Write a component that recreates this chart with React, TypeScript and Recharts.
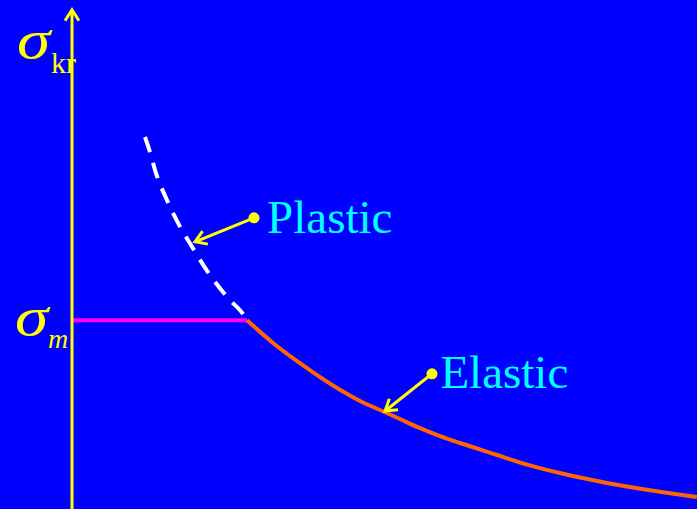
import React from "react";
import {
  LineChart,
  Line,
  XAxis,
  YAxis,
  ReferenceLine,
  ReferenceDot,
} from "recharts";

// slenderness (lambda) vs critical stress (sigma)
const elasticLambda = [100, 114.9, 134.3, 153.1, 164.6, 178.9, 187.4, 198.9, 210.3, 221.7, 233.1, 242.9, 261.7, 280.6, 300, 318.9, 337.7, 357.1];
const elasticSigma = [236, 207.5, 176, 149, 135, 121, 112.5, 101, 91, 82.5, 74.5, 67.5, 54.5, 44, 35, 27.5, 21, 15];

const plasticLambda = [41.7, 44.6, 47.4, 54.3, 61.7, 69.1, 77.7, 88.6, 98.9, 100];
const plasticSigma = [465, 446, 424, 386, 353, 326, 296, 265, 240, 236];

const yieldLambda = [0, 100];
const yieldSigma = [236, 236];

const elasticData = elasticLambda.map((x, i) => ({ x, y: elasticSigma[i] }));
const plasticData = plasticLambda.map((x, i) => ({ x, y: plasticSigma[i] }));
const yieldData = yieldLambda.map((x, i) => ({ x, y: yieldSigma[i] }));

const axisTop = 624;

// annotations: label, dot, arrow tip
const notes = [
  { text: "Plastic", label: { x: 111.5, y: 345 }, dot: { x: 104, y: 364 }, tip: { x: 70.3, y: 334 } },
  { text: "Elastic", label: { x: 210.5, y: 151 }, dot: { x: 205.7, y: 169 }, tip: { x: 178.9, y: 122.5 } },
];

const axisLabels = [
  { main: "σ", sub: "kr", subItalic: false, x: -31.4, y: 564, dx: 34, dy: 15 },
  { main: "σ", sub: "m", subItalic: true, x: -32.6, y: 217.5, dx: 33, dy: 13 },
];

const serif = "'Liberation Serif', 'Times New Roman', serif";

export default function App() {
  return (
    <div style={{ position: "absolute", left: 0, top: 0, width: 697, height: 509, background: "#0000ff" }}>
      <LineChart width={697} height={509} margin={{ top: 0, right: 0, bottom: 0, left: 0 }}>
        <defs>
          <marker
            id="arrowHead"
            viewBox="0 0 20 20"
            refX={12}
            refY={10}
            markerWidth={20}
            markerHeight={20}
            markerUnits="userSpaceOnUse"
            orient="auto"
          >
            <path d="M1,3 L12,10 L1,17" fill="none" stroke="#ffff00" strokeWidth={3} />
          </marker>
        </defs>
        <XAxis type="number" dataKey="x" domain={[-41.14, 357.14]} hide allowDataOverflow />
        <YAxis type="number" dataKey="y" domain={[0, 636.25]} hide allowDataOverflow />

        <Line
          data={yieldData}
          dataKey="y"
          type="linear"
          stroke="#ff00ff"
          strokeWidth={4}
          dot={false}
          activeDot={false}
          isAnimationActive={false}
        />
        <Line
          data={plasticData}
          dataKey="y"
          type="monotone"
          stroke="#ffffff"
          strokeWidth={4}
          strokeDasharray="16 11"
          dot={false}
          activeDot={false}
          isAnimationActive={false}
        />
        <Line
          data={elasticData}
          dataKey="y"
          type="monotone"
          stroke="#ff6600"
          strokeWidth={4}
          dot={false}
          activeDot={false}
          isAnimationActive={false}
        />

        <ReferenceLine
          segment={[{ x: 0, y: 0 }, { x: 0, y: axisTop }]}
          stroke="#ffff00"
          strokeWidth={3}
          markerEnd="url(#arrowHead)"
        />

        {notes.map((n) => (
          <ReferenceLine
            key={n.text + "-arrow"}
            segment={[n.dot, n.tip]}
            stroke="#ffff00"
            strokeWidth={3}
            markerEnd="url(#arrowHead)"
          />
        ))}
        {notes.map((n) => (
          <ReferenceDot
            key={n.text + "-dot"}
            x={n.dot.x}
            y={n.dot.y}
            r={5.5}
            fill="#ffff00"
            stroke="none"
          />
        ))}
        {notes.map((n) => (
          <ReferenceDot
            key={n.text + "-label"}
            x={n.label.x}
            y={n.label.y}
            r={0}
            shape={(p: any) => (
              <text x={p.cx} y={p.cy} fill="#00ffff" fontFamily={serif} fontSize={47}>
                {n.text}
              </text>
            )}
          />
        ))}
        {axisLabels.map((a) => (
          <ReferenceDot
            key={a.sub}
            x={a.x}
            y={a.y}
            r={0}
            shape={(p: any) => (
              <g fill="#ffff00" fontFamily={serif}>
                <text transform={`translate(${p.cx},${p.cy}) scale(1.25,1)`} fontSize={54} fontStyle="italic">
                  {a.main}
                </text>
                <text
                  x={p.cx + a.dx}
                  y={p.cy + a.dy}
                  fontSize={a.subItalic ? 28 : 30}
                  fontStyle={a.subItalic ? "italic" : "normal"}
                >
                  {a.sub}
                </text>
              </g>
            )}
          />
        ))}
      </LineChart>
    </div>
  );
}
